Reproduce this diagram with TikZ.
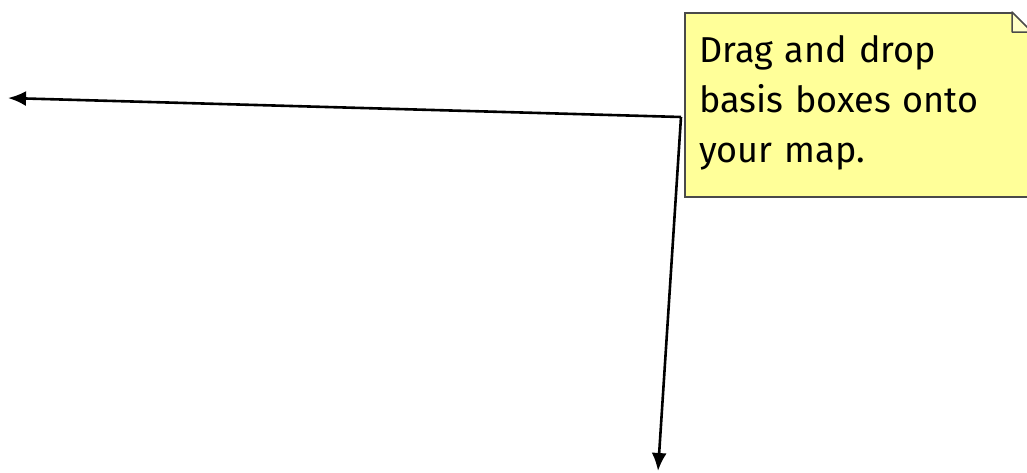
\documentclass[tikz,border=0pt]{standalone}
\usepackage{fontspec}
\setmainfont{Fira Sans}
\usetikzlibrary{positioning,arrows.meta}
\definecolor{notefill}{HTML}{FFFF99}
\definecolor{noteline}{HTML}{4A4A4A}

\begin{document}
\begin{tikzpicture}[
  x=1pt, y=-1pt,
  notebox/.style={draw=noteline, fill=notefill, line width=2pt, anchor=north west,
    minimum width=346pt, minimum height=184pt},
  notetext/.style={inner sep=0pt, anchor=north west, text width=316pt, align=left,
    font=\fontsize{36}{50}\selectfont},
  pointer/.style={-{Latex[length=18pt,width=15pt]}, line width=2.6pt, black},
]
\useasboundingbox (0,0) rectangle (1027,472);
\node[notebox] (note) at (684,12) {};
\node[notetext, below right=23pt and 15pt of note.north west] (notelabel) {Drag and drop\\basis boxes onto\\your map.};
\fill[white] (note.north east) ++(-21,-1) -- ++(23,0) -- ++(0,23) -- cycle;
\draw[noteline, fill=notefill!55!white, line width=1.5pt, line join=round] (note.north east) ++(-20,0) -- ++(0,20) -- ++(20,0) -- cycle;
\coordinate (hub) at (681,117);
\coordinate (leftend) at (8,98);
\coordinate (downend) at (658,471);
\draw[pointer] (hub) -- (leftend);
\draw[pointer] (hub) -- (downend);
\end{tikzpicture}
\end{document}
